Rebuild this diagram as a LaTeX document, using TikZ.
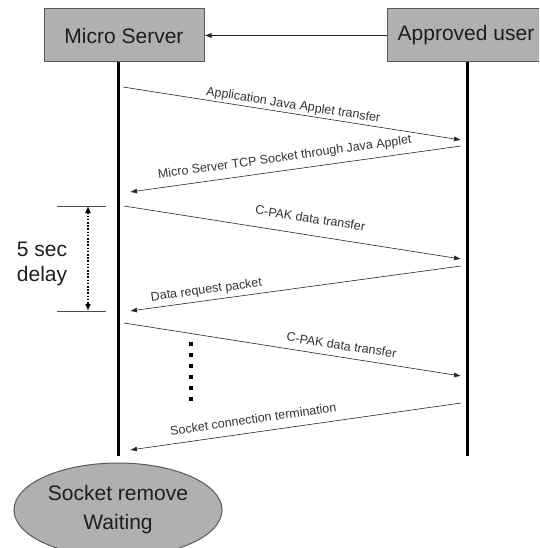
\documentclass[tikz,border=0pt]{standalone}
\usepackage{fontspec}
\setmainfont{Liberation Sans}
\usetikzlibrary{arrows.meta,shapes.geometric}
\definecolor{boxgray}{RGB}{176,176,176}
\definecolor{edgegray}{RGB}{90,90,90}
\definecolor{txt}{RGB}{30,30,30}
\tikzset{
  actor/.style={draw=edgegray, line width=1pt, fill=boxgray, minimum height=53pt, inner sep=0pt, font=\fontsize{21}{24}\selectfont, text=txt},
  lifeline/.style={line width=3pt, black},
  msg/.style={line width=0.6pt, draw=black!85, -{Latex[length=7pt,width=5pt]}},
  lbl/.style={sloped, above=1.5pt, inner sep=0.5pt, font=\fontsize{12.5}{14}\selectfont, text=black!80},
  bigtext/.style={font=\fontsize{21}{25}\selectfont, align=center, text=txt},
}
\begin{document}
\begin{tikzpicture}[x=1pt,y=1pt]
\useasboundingbox (0,0) rectangle (539,-548);
\begin{scope}
\clip (0,0) rectangle (539,-548);
% actors
\node[actor, minimum width=160pt] (ms) at (124,-35.5) {Micro Server};
\node[actor, minimum width=158pt] (au) at (466,-35.5) {Approved user};
\draw[msg] (au.west) -- (ms.east);
% lifelines
\coordinate (mstop) at (118,-62);
\coordinate (msbot) at (118,-456);
\coordinate (autop) at (467,-62);
\coordinate (aubot) at (467,-456);
\draw[lifeline] (mstop) -- (msbot);
\draw[lifeline] (autop) -- (aubot);
% messages
\coordinate (m1s) at (123,-87);  \coordinate (m1e) at (461,-140);
\coordinate (m2s) at (461,-146); \coordinate (m2e) at (130,-192);
\coordinate (m3s) at (124,-206); \coordinate (m3e) at (461,-259);
\coordinate (m4s) at (461,-266); \coordinate (m4e) at (130,-311);
\coordinate (m5s) at (124,-323); \coordinate (m5e) at (461,-376);
\coordinate (m6s) at (461,-403); \coordinate (m6e) at (130,-450);
\draw[msg] (m1s) -- node[lbl, pos=0.50] {Application Java Applet transfer} (m1e);
\draw[msg] (m2s) -- node[lbl, pos=0.527, above=4.5pt] {Micro Server TCP Socket through Java Applet} (m2e);
\draw[msg] (m3s) -- node[lbl, pos=0.545, above=10pt] {C-PAK data transfer} (m3e);
\draw[msg] (m4s) -- node[lbl, pos=0.765, above=2pt] {Data request packet} (m4e);
\draw[msg] (m5s) -- node[lbl, pos=0.64, above=5pt] {C-PAK data transfer} (m5e);
\draw[msg] (m6s) -- node[lbl, pos=0.622, above=6.5pt] {Socket connection termination} (m6e);
% delay bracket
\coordinate (d1a) at (57,-206); \coordinate (d1b) at (106,-206);
\coordinate (d2a) at (57,-311); \coordinate (d2b) at (106,-311);
\coordinate (dva) at (88,-206); \coordinate (dvb) at (88,-311);
\draw[line width=0.6pt, black!70] (d1a) -- (d1b);
\draw[line width=0.6pt, black!70] (d2a) -- (d2b);
\draw[line width=1.6pt, dash pattern=on 1.6pt off 1.6pt, {Latex[length=7pt,width=6pt]}-{Latex[length=7pt,width=6pt]}] (dva) -- (dvb);
\node[bigtext] (delay) at (42,-264) {5 sec\\delay};
% continuation dots
\coordinate (dots1) at (191,-342);
\coordinate (dots2) at (191,-402);
\draw[line width=4pt, dash pattern=on 4pt off 7pt] (dots1) -- (dots2);
% end state
\node[ellipse, draw=edgegray, line width=1pt, fill=boxgray, minimum width=208pt, minimum height=94pt, inner sep=0pt, bigtext, font=\fontsize{21}{29}\selectfont] (sr) at (118,-510) {Socket remove\\Waiting};
\end{scope}
\end{tikzpicture}
\end{document}
